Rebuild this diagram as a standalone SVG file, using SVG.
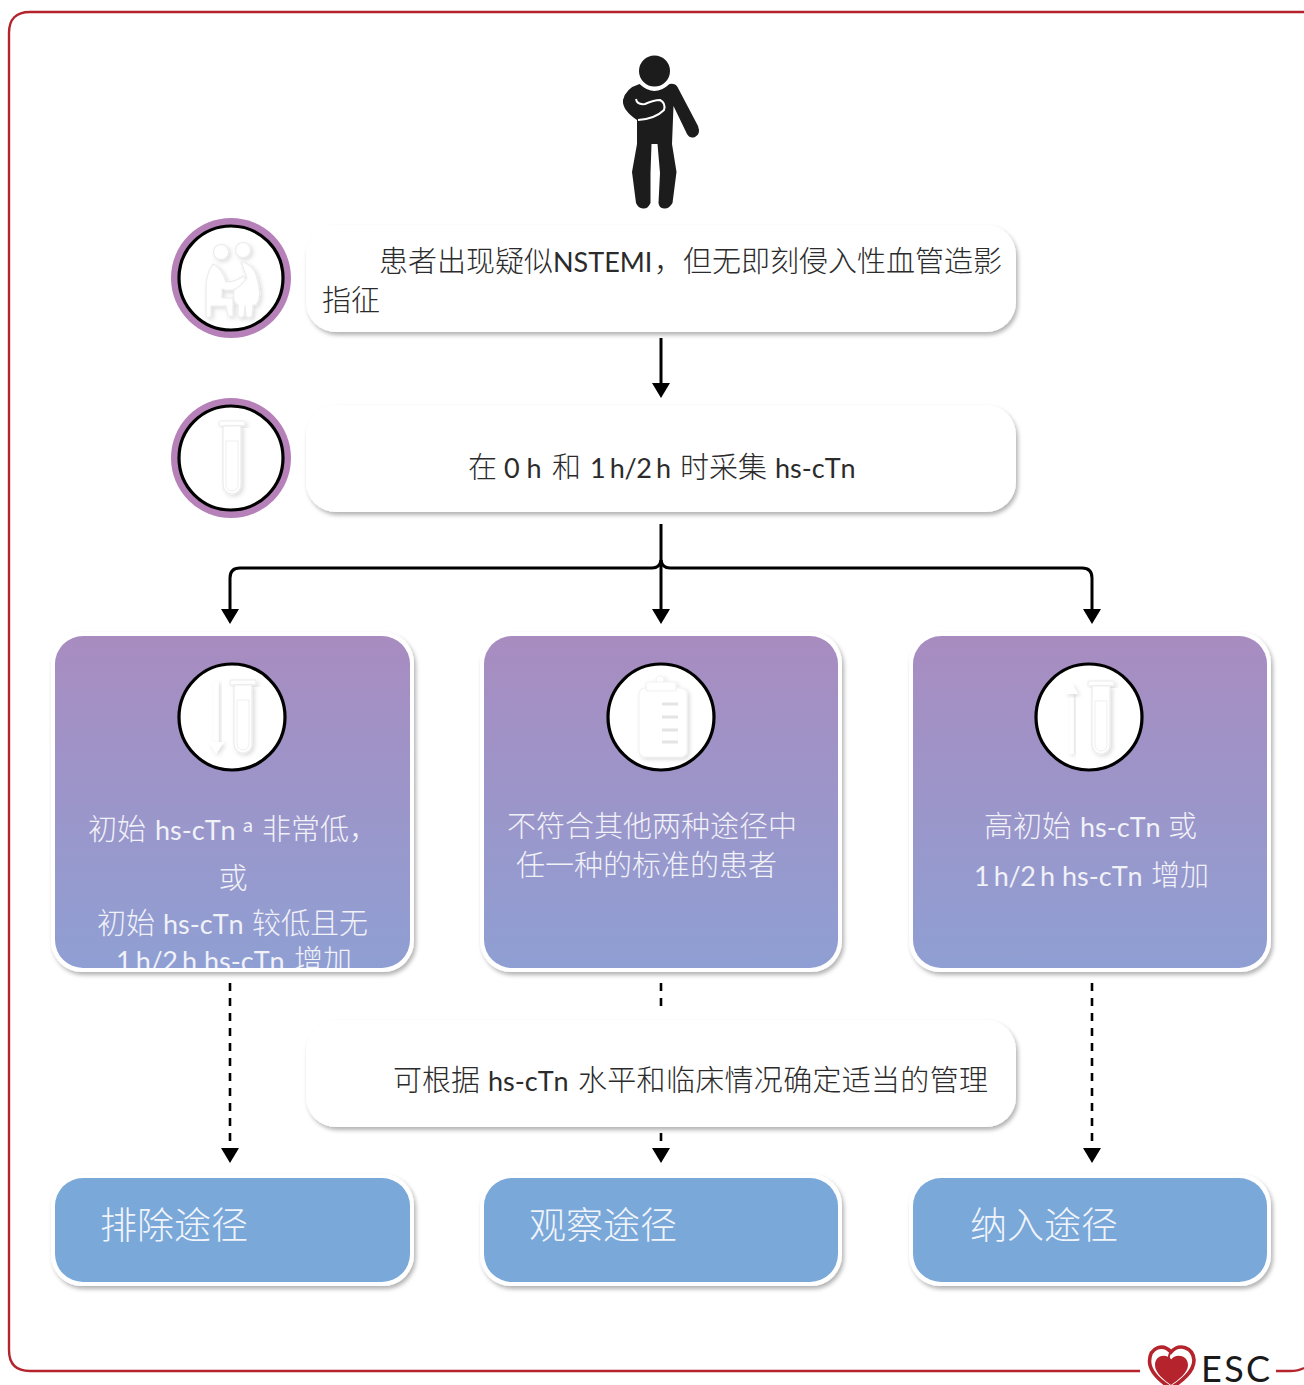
<svg xmlns="http://www.w3.org/2000/svg" width="1304" height="1385" viewBox="0 0 1304 1385">
<style>
text{font-family:"Lato","Noto Sans CJK SC",sans-serif;font-weight:300;font-size:29px}
.dark{fill:#2b2b2b}
.lt{fill:#f1f1f8}
.la{font-weight:400;font-kerning:none;font-size:27px}
.ts{font-weight:400;font-kerning:none;font-size:27px;letter-spacing:-.4px;word-spacing:-2px}
.big{fill:#f1f5fb;font-size:37px}
.wbox{fill:#fff;filter:url(#sh)}
.edge{fill:#fff;filter:url(#sh)}
.ring{fill:#fff;stroke:#000;stroke-width:3.2}
.halo{fill:#b680b9}
.ico{fill:#fff;stroke:#ececec;stroke-width:1.2;filter:url(#ic)}
.flat{fill:#fff;filter:url(#ic)}
.conn{fill:none;stroke:#000;stroke-width:3}
.dash{fill:none;stroke:#000;stroke-width:2.6;stroke-dasharray:8 7}
</style>
<defs>
<filter id="sh" x="-10%" y="-20%" width="120%" height="140%"><feDropShadow dx="2" dy="3" stdDeviation="2.2" flood-color="#000" flood-opacity=".3"/></filter>
<filter id="ic" x="-60%" y="-30%" width="220%" height="160%"><feDropShadow dx="2" dy="2" stdDeviation="2" flood-color="#000" flood-opacity=".14"/></filter>
<linearGradient id="pg" x1="0" y1="0" x2="0" y2="1"><stop offset="0" stop-color="#a88cc0"/><stop offset="1" stop-color="#8f9fd3"/></linearGradient>
<marker id="ah" markerUnits="userSpaceOnUse" markerWidth="18" markerHeight="18" refX="2" refY="9" orient="auto"><path d="M0 0L15 9L0 18Z" fill="#000"/></marker>
<clipPath id="c1"><rect x="55" y="636" width="355" height="332" rx="28"/></clipPath>
<g id="tube"><rect x="-13" y="-37" width="26" height="5" rx="1.5" class="ico"/><path d="M-9-32V27a9 9 0 0 0 18 0V-32Z" class="ico"/><path d="M-6-17V27a6 6 0 0 0 12 0V-17Z" fill="#fff" stroke="#efefef"/></g>
</defs>

<path id="frame" d="M1304 12H30Q9 12 9 33V1350Q9 1371 30 1371H1140M1276 1371H1290Q1298 1371 1304 1368" fill="none" stroke="#b5232c" stroke-width="2.4"/>

<g id="figure" fill="#1c1c1c">
<circle cx="654.5" cy="71" r="15.5"/>
<path d="M639.5 84Q654.5 98 669.5 84Q675 83 677.5 87L698 126Q701 134 695 137Q690 139 687 134L673.5 106L672 144L676.5 172L672.5 203Q669 209 664 208.5Q659 208 658.5 203L660 173L657.5 144H651.5L650.5 173L650.5 203Q648 209 643 208.5Q638 208 636 203L632 172L637 144V120Q622 110 623 100Q626 88 639.5 84Z"/>
<path d="M636 99Q637 105 645 104Q654 100 660 100Q666 103 664 110Q655 119 638 120" fill="none" stroke="#fff" stroke-width="2"/>
</g>

<g id="connectors">
<path class="conn" d="M661 338V385" marker-end="url(#ah)"/>
<path class="conn" d="M661 524V611" marker-end="url(#ah)"/>
<path class="conn" d="M661 560Q660 568 652 568H240Q230 568 230 578V611" marker-end="url(#ah)"/>
<path class="conn" d="M661 560Q662 568 670 568H1082Q1092 568 1092 578V611" marker-end="url(#ah)"/>
<path class="dash" d="M230 983V1150" marker-end="url(#ah)"/>
<path class="dash" d="M661 983V1013"/>
<path class="dash" d="M661 1133V1150" marker-end="url(#ah)"/>
<path class="dash" d="M1092 983V1150" marker-end="url(#ah)"/>
</g>

<g id="icon-patient">
<circle class="halo" cx="231" cy="278" r="60"/><circle class="ring" cx="231" cy="278" r="52"/>
<g class="ico" stroke-linejoin="round">
<circle cx="221" cy="252" r="7.5"/><circle cx="243" cy="250" r="7.5"/>
<path d="M213 264Q222 268 226 282Q236 282 243 276L246 280Q236 294 222 289L222 298L233 298L233 316L228 316L226 306H211L211 317L206 317V292Q205 275 213 264Z"/>
<path d="M241 262Q255 264 258 282Q262 298 256 305H253L252 316Q249 319 246 316L245 306L244 316Q241 319 238 316L238 305Q232 302 234 290Q242 285 247 278Q244 270 241 262Z"/>
</g></g>

<g id="node-presentation">
<rect class="wbox" x="306" y="225" width="710" height="107" rx="30"/>
<text class="dark" y="272"><tspan x="379">患者出现疑似</tspan><tspan x="553" class="la">NSTEMI</tspan><tspan x="654">，但无即刻侵入性血管造影</tspan></text>
<text class="dark" x="322" y="311">指征</text>
</g>

<g id="icon-tube">
<circle class="halo" cx="231" cy="458" r="60"/><circle class="ring" cx="231" cy="458" r="52"/>
<use href="#tube" x="232" y="458"/>
</g>

<g id="node-sample">
<rect class="wbox" x="306" y="405" width="710" height="107" rx="30"/>
<text class="dark" y="478"><tspan x="468">在</tspan><tspan x="504" class="la">0 h</tspan><tspan x="552">和</tspan><tspan x="590" class="ts">1 h/2 h</tspan><tspan x="680">时采集</tspan><tspan x="775" class="la">hs-cTn</tspan></text>
</g>

<g id="node-rule-out">
<rect class="edge" x="51" y="632" width="363" height="340" rx="31"/>
<rect x="55" y="636" width="355" height="332" rx="28" fill="url(#pg)"/>
<circle class="ring" cx="232" cy="717" r="53"/>
<rect class="flat" x="213.5" y="681" width="5" height="62"/><path class="flat" d="M209 742H224L216 754Z"/>
<use href="#tube" x="243" y="717"/>
<g clip-path="url(#c1)">
<text class="lt" y="840"><tspan x="88">初始</tspan><tspan x="155" class="la">hs-cTn</tspan><tspan x="243" dy="-8" style="font-weight:400;font-size:20px">a</tspan><tspan x="262" dy="8">非常低，</tspan></text>
<text class="lt" x="233" y="889" text-anchor="middle">或</text>
<text class="lt" y="934"><tspan x="97">初始</tspan><tspan x="163" class="la">hs-cTn</tspan><tspan x="252">较低且无</tspan></text>
<text class="lt" y="971"><tspan x="116" class="ts">1 h/2 h</tspan><tspan x="204" class="la">hs-cTn</tspan><tspan x="294">增加</tspan></text>
</g></g>

<g id="node-observe">
<rect class="edge" x="480" y="632" width="362" height="340" rx="31"/>
<rect x="484" y="636" width="354" height="332" rx="28" fill="url(#pg)"/>
<circle class="ring" cx="661" cy="717" r="53"/>
<g class="ico" style="stroke:#f2f2f2"><rect x="639" y="688" width="48" height="69" rx="6"/><circle cx="660" cy="680" r="4"/><rect x="646" y="682" width="30" height="9" rx="2"/></g>
<path d="M662 704h16M662 717h16M662 730h16M662 742h16" stroke="#e4e4e4" stroke-width="3" fill="none"/>
<text class="lt" x="507" y="837">不符合其他两种途径中</text>
<text class="lt" x="516" y="876">任一种的标准的患者</text>
</g>

<g id="node-rule-in">
<rect class="edge" x="909" y="632" width="362" height="340" rx="31"/>
<rect x="913" y="636" width="354" height="332" rx="28" fill="url(#pg)"/>
<circle class="ring" cx="1089" cy="717" r="53"/>
<rect class="flat" x="1069.5" y="693" width="4" height="61"/><path class="flat" d="M1065 694H1078L1071.5 683Z"/>
<use href="#tube" x="1101" y="718"/>
<text class="lt" y="837"><tspan x="984">高初始</tspan><tspan x="1080" class="la">hs-cTn</tspan><tspan x="1168">或</tspan></text>
<text class="lt" y="886"><tspan x="974" class="ts">1 h/2 h</tspan><tspan x="1062" class="la">hs-cTn</tspan><tspan x="1151">增加</tspan></text>
</g>

<g id="node-management">
<rect class="wbox" x="306" y="1020" width="710" height="107" rx="30"/>
<text class="dark" y="1091"><tspan x="393">可根据</tspan><tspan x="488" class="la">hs-cTn</tspan><tspan x="578" textLength="410">水平和临床情况确定适当的管理</tspan></text>
</g>

<g id="path-rule-out">
<rect class="edge" x="51" y="1174" width="363" height="112" rx="31"/>
<rect x="55" y="1178" width="355" height="104" rx="28" fill="#7aa8d9"/>
<text class="big" x="100" y="1239">排除途径</text>
</g>
<g id="path-observe">
<rect class="edge" x="480" y="1174" width="362" height="112" rx="31"/>
<rect x="484" y="1178" width="354" height="104" rx="28" fill="#7aa8d9"/>
<text class="big" x="529" y="1239">观察途径</text>
</g>
<g id="path-rule-in">
<rect class="edge" x="909" y="1174" width="362" height="112" rx="31"/>
<rect x="913" y="1178" width="354" height="104" rx="28" fill="#7aa8d9"/>
<text class="big" x="970" y="1239">纳入途径</text>
</g>

<g id="esc-logo">
<path d="M1171 1352C1163 1343 1150 1347 1149.5 1361C1149.5 1372 1160 1381 1171 1388C1182 1381 1194 1372 1194 1360C1193 1347 1179 1343 1171 1352Z" fill="none" stroke="#b5232c" stroke-width="3.6"/>
<path d="M1171 1360C1167 1353 1155 1355 1155 1365C1155 1373 1164 1380 1171 1385C1178 1380 1188 1373 1188 1365C1188 1355 1175 1353 1171 1360Z" fill="#b5232c"/>
<path d="M1171 1352Q1166 1358 1172 1361" fill="none" stroke="#b5232c" stroke-width="2"/>
<text x="1201" y="1382" style="font-family:'Lato',sans-serif;font-weight:400;font-size:36px;fill:#1a1a1a;letter-spacing:2.4px">ESC</text>
</g>
</svg>
